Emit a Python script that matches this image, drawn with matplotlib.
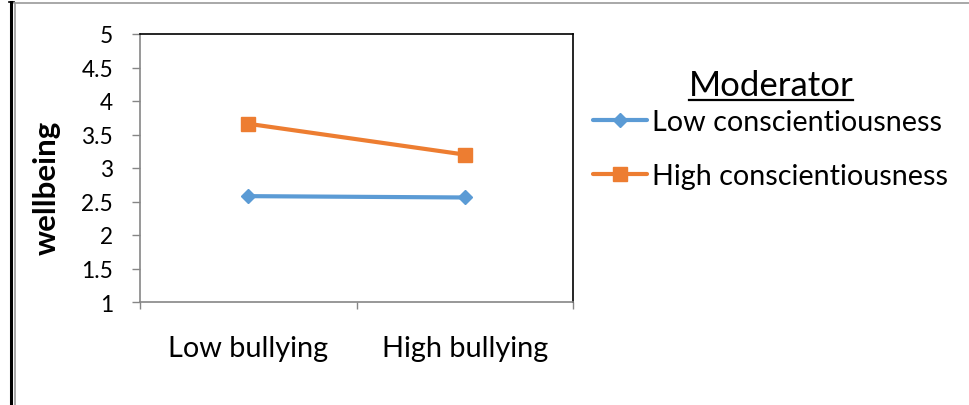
import numpy as np
import matplotlib.pyplot as plt
from matplotlib.lines import Line2D

plt.rcParams['font.family'] = ['Lato', 'DejaVu Sans']

categories = ['Low bullying', 'High bullying']
low_consc = [2.58, 2.56]
high_consc = [3.66, 3.20]
series_names = ['Low conscientiousness', 'High conscientiousness']
yticks = [1, 1.5, 2, 2.5, 3, 3.5, 4, 4.5, 5]

blue = '#5B9BD5'
orange = '#ED7D31'
axis_grey = '#868686'

W, H = 969, 406
fig = plt.figure(figsize=(W / 100, H / 100), dpi=100)
ax = fig.add_axes([140 / W, 1 - 303 / H, 433 / W, 268 / H])

x = np.arange(len(categories))
ax.plot(x, low_consc, color=blue, lw=3, marker='D', ms=7.2,
        label=series_names[0], solid_capstyle='round')
ax.plot(x, high_consc, color=orange, lw=3, marker='s', ms=10.5,
        label=series_names[1], solid_capstyle='round')

ax.set_xlim(-0.5, 1.5)
ax.set_ylim(1, 5)
ax.set_yticks(yticks)
ax.set_yticklabels(['%g' % t for t in yticks])

# ticks on the category boundaries, labels in the middle of each category
ax.set_xticks([-0.5, 0.5, 1.5])
ax.set_xticklabels(['', '', ''])
ax.set_xticks(x, minor=True)
ax.set_xticklabels(categories, minor=True)

ax.tick_params(axis='y', direction='out', length=5.8, width=1, color=axis_grey,
               labelsize=16.3, pad=13.5)
ax.tick_params(axis='x', which='major', direction='out', length=5, width=1,
               color=axis_grey)
ax.tick_params(axis='x', which='minor', length=0, labelsize=20.8, pad=24)

for side in ['left', 'bottom']:
    ax.spines[side].set_color(axis_grey)
    ax.spines[side].set_linewidth(1.2)
for side in ['top', 'right']:
    ax.spines[side].set_color('black')
    ax.spines[side].set_linewidth(1.2)

ax.set_ylabel('wellbeing', fontsize=22.5, fontweight='bold', va='center')
ax.yaxis.set_label_coords(-0.215, 0.43)

leg = ax.legend(loc='center left', bbox_to_anchor=(581 / W, 1 - 150 / H),
                bbox_transform=fig.transFigure, frameon=False, fontsize=20.7,
                handlelength=1.91, handletextpad=0.17, labelspacing=1.0,
                borderaxespad=0)

# legend heading, underlined
title = fig.text(771 / W, 1 - 96 / H, 'Moderator', fontsize=25,
                 ha='center', va='baseline')
fig.canvas.draw()
bb = title.get_window_extent(fig.canvas.get_renderer())
fig.add_artist(Line2D([bb.x0, bb.x1], [H - 101, H - 101], color='black',
                      lw=1.6, transform=None))

# page frame around the chart
fig.add_artist(Line2D([10.5, 10.5], [0, H - 3], color='black', lw=2.2,
                      transform=None))
fig.add_artist(Line2D([9, 14], [H - 3, H - 3], color='black', lw=1.2,
                      transform=None))
fig.add_artist(Line2D([14.5, 14.5], [0, H - 4], color='#9a9a9a', lw=1.2,
                      transform=None))
fig.add_artist(Line2D([14, W], [H - 3.5, H - 3.5], color='#9a9a9a', lw=1.2,
                      transform=None))

fig.savefig('out.png', dpi=100)
